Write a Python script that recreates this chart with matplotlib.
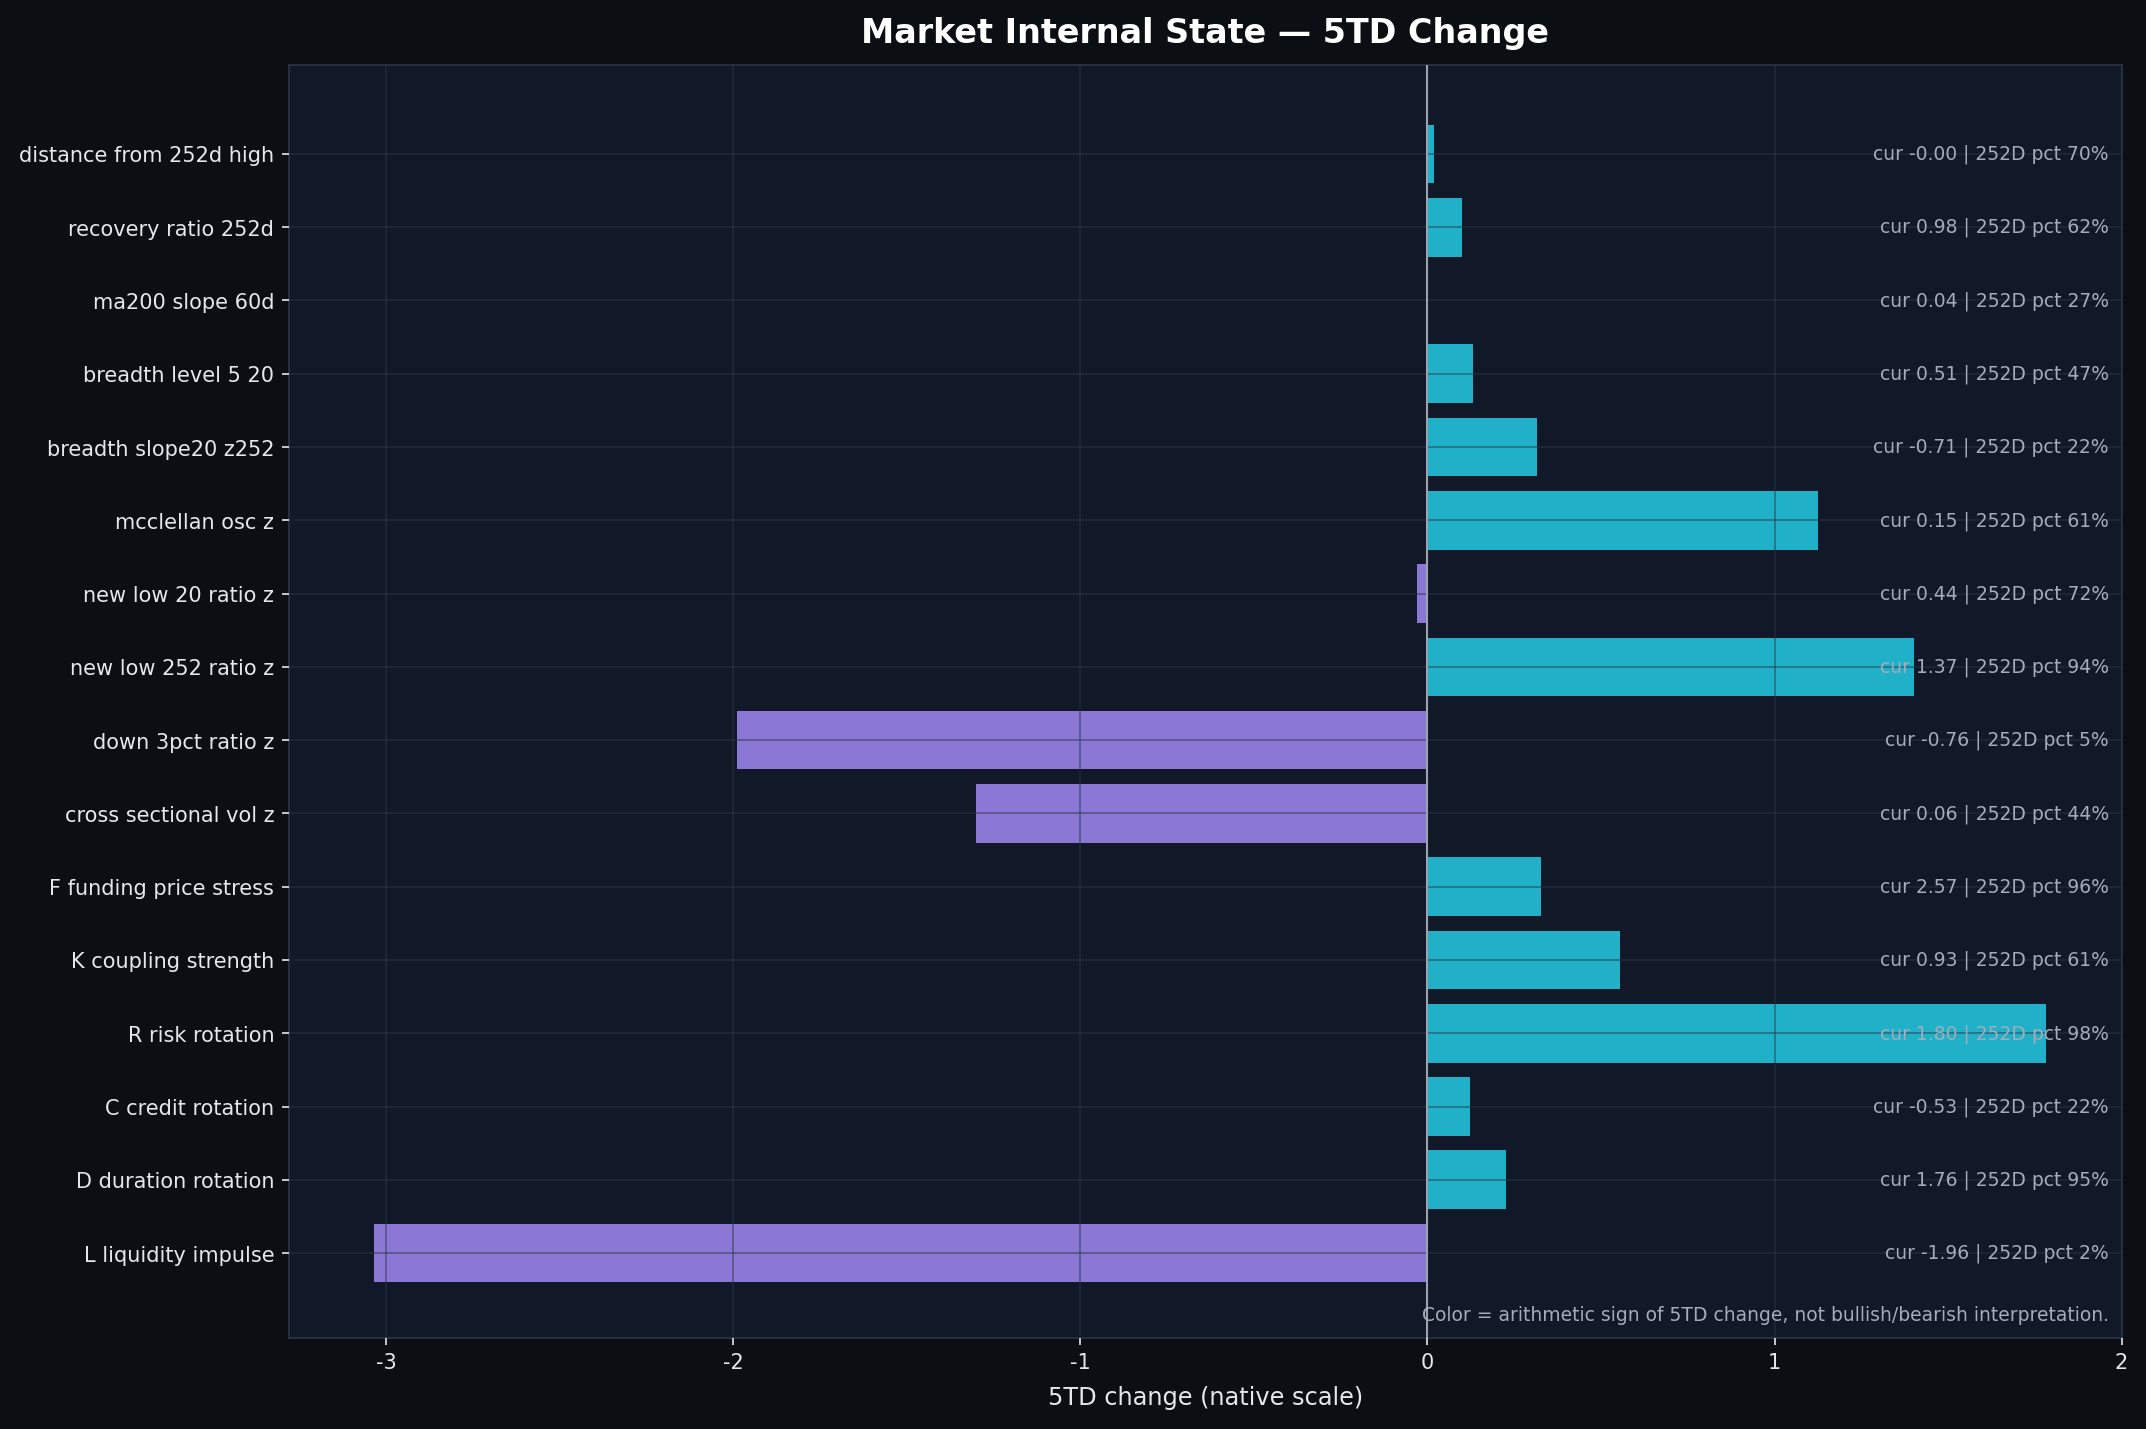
import matplotlib
matplotlib.use("Agg")
import matplotlib.pyplot as plt
import numpy as np

plt.rcParams["axes.unicode_minus"] = False

# data, top to bottom as shown
labels = [
    "distance from 252d high", "recovery ratio 252d", "ma200 slope 60d",
    "breadth level 5 20", "breadth slope20 z252", "mcclellan osc z",
    "new low 20 ratio z", "new low 252 ratio z", "down 3pct ratio z",
    "cross sectional vol z", "F funding price stress", "K coupling strength",
    "R risk rotation", "C credit rotation", "D duration rotation",
    "L liquidity impulse",
]
chg_5td = [0.02, 0.10, 0.0, 0.13, 0.317, 1.124, -0.029, 1.402, -1.99,
           -1.30, 0.327, 0.556, 1.783, 0.122, 0.225, -3.035]
cur_val = ["-0.00", "0.98", "0.04", "0.51", "-0.71", "0.15", "0.44", "1.37",
           "-0.76", "0.06", "2.57", "0.93", "1.80", "-0.53", "1.76", "-1.96"]
pct_252 = [70, 62, 27, 47, 22, 61, 72, 94, 5, 44, 96, 61, 98, 22, 95, 2]

BG = "#0b0e12"
AX_BG = "#111827"
POS = "#20b0c8"
NEG = "#8a78d4"

fig = plt.figure(figsize=(14.31, 9.53), dpi=150, facecolor=BG)
ax = fig.add_axes([0.1346, 0.0636, 0.8538, 0.8904])
ax.set_facecolor(AX_BG)

n = len(labels)
y = np.arange(n)[::-1]
cols = [POS if v >= 0 else NEG for v in chg_5td]
ax.barh(y, chg_5td, height=0.8, color=cols, zorder=1)
ax.axvline(0, color="#9ca3af", lw=1.0, zorder=3)

ax.set_axisbelow(False)
ax.grid(True, color="#2b3546", alpha=0.55, lw=0.8, zorder=2)

ax.set_yticks(y)
ax.set_yticklabels(labels)
ax.set_xlim(-3.28, 2.0)
ax.set_ylim(-1.16, n - 1 + 1.21)

for yi, c, p in zip(y, cur_val, pct_252):
    ax.text(0.993, yi, f"cur {c} | 252D pct {p}%", transform=ax.get_yaxis_transform(),
            ha="right", va="center", fontsize=9, color="#a3acb9", zorder=4)

ax.text(0.993, 0.011, "Color = arithmetic sign of 5TD change, not bullish/bearish interpretation.",
        transform=ax.transAxes, ha="right", va="bottom", fontsize=9, color="#a3acb9", zorder=4)

ax.tick_params(colors="#e5e7eb", labelsize=10)
for s in ax.spines.values():
    s.set_color("#2a3547")
ax.set_xlabel("5TD change (native scale)", color="#e5e7eb", fontsize=11.5, labelpad=6)
ax.set_title("Market Internal State — 5TD Change", color="white", fontsize=16,
             fontweight="bold", pad=11)

fig.savefig("out.png", dpi=150, facecolor=BG)
